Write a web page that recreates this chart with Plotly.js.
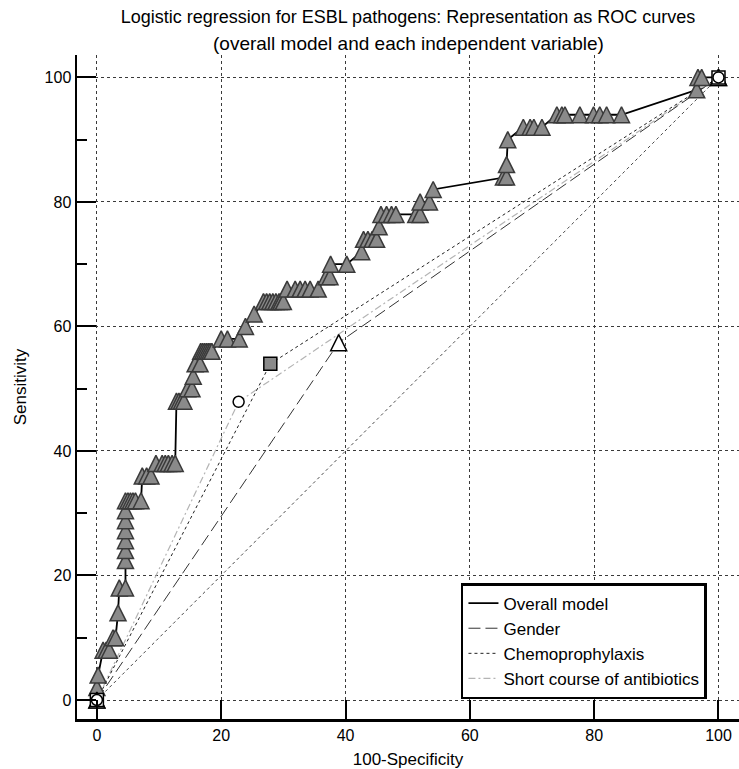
<!DOCTYPE html>
<html>
<head>
<meta charset="utf-8">
<script src="https://cdn.plot.ly/plotly-3.0.1.min.js"></script>
<style>
  html, body { margin: 0; padding: 0; background: #fff; }
  #chart { width: 739px; height: 769px; }
</style>
</head>
<body>
<div id="chart"></div>
<script>
// ---------------- data ----------------
const TITLE_LINE1 = 'Logistic regression for ESBL pathogens: Representation as ROC curves';
const TITLE_LINE2 = '(overall model and each independent variable)';
const X_TITLE = '100-Specificity';
const Y_TITLE = 'Sensitivity';
const SERIES_NAMES = ['Overall model', 'Gender', 'Chemoprophylaxis', 'Short course of antibiotics'];
const TICKS = [0, 20, 40, 60, 80, 100];
const Y_MINOR = [10, 30, 50, 70, 90];

// Overall model (100-Specificity, Sensitivity)
const OVERALL_FPR = [0, 0, 0.2, 1.0, 1.5, 2.0, 2.6, 3.0, 3.4, 3.6,
  4.6, 4.6, 4.6, 4.6, 4.6, 4.6, 4.6, 4.6, 5.0, 5.4,
  5.8, 6.2, 7.1, 7.3, 8.0, 8.7, 9.5, 10.5, 11.0, 11.5,
  12.1, 12.6, 12.8, 13.2, 13.6, 14.0, 14.6, 15.3, 15.5, 15.8,
  16.6, 16.7, 17.0, 17.3, 17.6, 17.9, 18.2, 18.5, 20.0, 21.0,
  22.9, 23.9, 25.3, 26.8, 27.3, 27.8, 28.3, 28.8, 29.3, 29.6,
  30.0, 30.6, 31.9, 32.7, 33.5, 34.3, 35.6, 36.9, 37.5, 37.6,
  40.2, 42.6, 42.9, 43.6, 44.3, 45.0, 45.4, 45.7, 46.6, 47.4,
  48.1, 51.3, 52.0, 52.0, 53.5, 54.1, 65.4, 65.9, 65.9, 66.1,
  68.6, 69.7, 70.3, 71.6, 74.0, 74.8, 75.3, 77.7, 79.9, 80.9,
  82.0, 84.4, 96.5, 96.7, 97.3, 100];
const OVERALL_TPR = [0, 2, 4, 8, 8, 8, 10, 10, 14, 18,
  18, 22.4, 24, 25.6, 27.2, 28.8, 30.4, 32, 32, 32,
  32, 32, 32, 36, 36, 36, 38, 38, 38, 38,
  38, 38, 48, 48, 48, 48, 50, 50, 52, 54,
  54, 56, 56, 56, 56, 56, 56, 56, 58, 58,
  58, 60, 62, 64, 64, 64, 64, 64, 64, 64,
  64, 66, 66, 66, 66, 66, 66, 68, 68, 70,
  70, 72, 74, 74, 74, 74, 76, 78, 78, 78,
  78, 78, 78, 80, 80, 82, 84, 84, 86, 90,
  92, 92, 92, 92, 94, 94, 94, 94, 94, 94,
  94, 94, 98, 100, 100, 100];

const GENDER_FPR = [0, 38.9, 100];
const GENDER_TPR = [0, 57.4, 100];
const CHEMO_FPR = [0, 27.9, 100];
const CHEMO_TPR = [0, 54.0, 100];
const SHORT_FPR = [0, 22.8, 100];
const SHORT_TPR = [0, 47.9, 100];
const DIAG = [0, 100];

// ---------------- styling ----------------
const FONT = 'Liberation Sans, Arial, sans-serif';
const X_RANGE = [-3.2, 103.3];
const Y_RANGE = [-3.05, 103.6];
const PLOT_H = 769 - 55 - 50;
const PX_PER_Y = PLOT_H / (Y_RANGE[1] - Y_RANGE[0]);
const TRI = 16;                       // triangle marker size (px)
const SHIFT = (TRI / 2) / PX_PER_Y;   // centre the apex-anchored triangle on its point
const Y2_RANGE = [Y_RANGE[0] - SHIFT, Y_RANGE[1] - SHIFT];

const traces = [
  { x: DIAG, y: DIAG, mode: 'lines', showlegend: false, hoverinfo: 'skip',
    line: { color: '#4a4a4a', width: 1, dash: '3px,3px' } },
  { x: SHORT_FPR, y: SHORT_TPR, mode: 'lines', name: SERIES_NAMES[3],
    line: { color: '#b4b4b4', width: 1.2, dash: '7px,3px,2px,3px' } },
  { x: CHEMO_FPR, y: CHEMO_TPR, mode: 'lines', name: SERIES_NAMES[2],
    line: { color: '#222', width: 1, dash: '3px,3px' } },
  { x: GENDER_FPR, y: GENDER_TPR, mode: 'lines', name: SERIES_NAMES[1],
    line: { color: '#333', width: 1, dash: '12px,5px' } },
  { x: OVERALL_FPR, y: OVERALL_TPR, mode: 'lines', name: SERIES_NAMES[0],
    line: { color: '#000', width: 1.8 } },
  // markers (triangles on a shifted overlay axis so they are centred on their points)
  { x: OVERALL_FPR, y: OVERALL_TPR, yaxis: 'y2', mode: 'markers', showlegend: false,
    marker: { symbol: 'arrow-up', size: TRI, color: '#8a8a8a', line: { color: '#3a3a3a', width: 1.5 } } },
  { x: GENDER_FPR, y: GENDER_TPR, yaxis: 'y2', mode: 'markers', showlegend: false,
    marker: { symbol: 'arrow-up', size: TRI, color: '#fff', line: { color: '#000', width: 1.5 } } },
  { x: CHEMO_FPR, y: CHEMO_TPR, yaxis: 'y3', mode: 'markers', showlegend: false,
    marker: { symbol: 'square', size: 13, color: ['#fff', '#8a8a8a', '#fff'], line: { color: '#000', width: 1.5 } } },
  { x: SHORT_FPR, y: SHORT_TPR, yaxis: 'y3', mode: 'markers', showlegend: false,
    marker: { symbol: 'circle', size: 11, color: '#fff', line: { color: '#000', width: 1.5 } } }
];

const axisCommon = {
  tickvals: TICKS,
  ticks: 'inside', ticklen: 19, tickwidth: 2, tickcolor: '#000',
  showline: true, linewidth: 2.5, linecolor: '#000',
  showgrid: true, gridcolor: '#3a3a3a', gridwidth: 1, griddash: 'dot',
  zeroline: false, automargin: false, fixedrange: true,
  tickfont: { family: FONT, size: 16, color: '#000' }
};

const layout = {
  width: 739, height: 769,
  margin: { l: 77, r: 0, t: 55, b: 50, pad: 0 },
  paper_bgcolor: '#fff', plot_bgcolor: '#fff',
  font: { family: FONT, color: '#000', size: 16 },
  title: {
    text: TITLE_LINE1,
    font: { family: FONT, size: 18, color: '#000' },
    x: 0.5, xref: 'paper', xanchor: 'center',
    y: 1 - 17 / 769, yref: 'container', yanchor: 'middle'
  },
  annotations: [{
    text: TITLE_LINE2, showarrow: false,
    xref: 'paper', x: 0.5, xanchor: 'center',
    yref: 'paper', y: (719 - 43) / PLOT_H, yanchor: 'middle',
    font: { family: FONT, size: 19, color: '#000' }
  }],
  showlegend: true,
  legend: {
    x: 0.58, xanchor: 'left', y: 0.03, yanchor: 'bottom',
    traceorder: 'reversed',
    bgcolor: '#fff', bordercolor: '#000', borderwidth: 2.5,
    font: { family: FONT, size: 17, color: '#000' },
    tracegroupgap: 0, itemwidth: 30
  },
  xaxis: Object.assign({}, axisCommon, {
    range: X_RANGE,
    title: { text: X_TITLE, font: { family: FONT, size: 17, color: '#000' }, standoff: 12 }
  }),
  yaxis: Object.assign({}, axisCommon, {
    range: Y_RANGE,
    minor: { tickvals: Y_MINOR, ticks: 'inside', ticklen: 10, tickwidth: 2, tickcolor: '#000', showgrid: false },
    title: { text: Y_TITLE, font: { family: FONT, size: 17, color: '#000' }, standoff: 14 }
  }),
  yaxis2: { overlaying: 'y', range: Y2_RANGE, visible: false, fixedrange: true },
  yaxis3: { overlaying: 'y', range: Y_RANGE, visible: false, fixedrange: true }
};

Plotly.newPlot('chart', traces, layout, { displayModeBar: false, staticPlot: true });
</script>
</body>
</html>
